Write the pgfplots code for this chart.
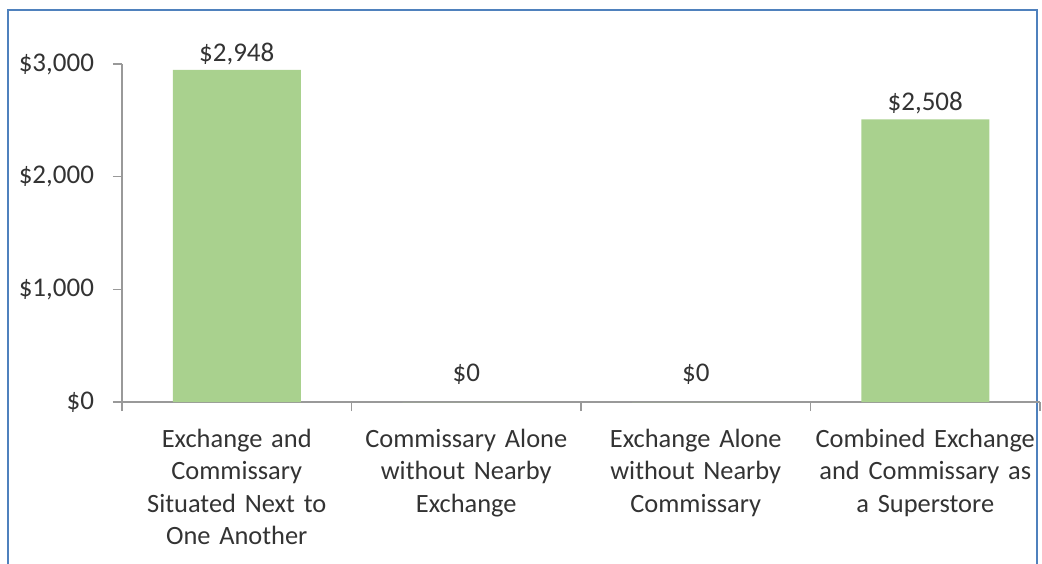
\documentclass[border=0pt]{standalone}
\usepackage{pgfplots}
\pgfplotsset{compat=1.18}
\usepackage{fontspec}
\setmainfont{Carlito}
\definecolor{bargreen}{HTML}{A9D18E}
\definecolor{frameblue}{HTML}{4F81BD}
\definecolor{txt}{HTML}{333333}
\begin{document}
\begin{tikzpicture}
\path[use as bounding box] (0,0) rectangle (521pt,281.5pt);
\draw[frameblue, line width=1.3pt] (4pt,-10pt) -- (4pt,276.5pt) -- (518.5pt,276.5pt) -- (518.5pt,-10pt);
\begin{axis}[
  at={(61pt,80.5pt)}, anchor=south west,
  scale only axis, width=459pt, height=169pt,
  clip=false,
  xmin=-0.5, xmax=3.5, ymin=0, ymax=3000,
  axis x line*=bottom, axis y line*=left,
  axis line style={-, draw=gray!80, line width=0.6pt},
  xtick={0,1,2,3},
  xticklabels={{Exchange and\\Commissary\\Situated Next to\\One Another},
               {Commissary Alone\\without Nearby\\Exchange},
               {Exchange Alone\\without Nearby\\Commissary},
               {Combined Exchange\\and Commissary as\\a Superstore}},
  major x tick style={draw=none},
  minor xtick={-0.5,0.5,1.5,2.5,3.5},
  minor tick length=4.5pt,
  minor x tick style={draw=gray!80, line width=0.6pt},
  ytick={0,1000,2000,3000},
  yticklabels={{\$0},{\$1,000},{\$2,000},{\$3,000}},
  major tick length=4.5pt,
  tick align=outside,
  ytick style={draw=gray!80, line width=0.6pt},
  xticklabel style={text width=112pt, align=center, font=\fontsize{13.2}{16.25}\selectfont, text=txt, yshift=-5.5pt},
  yticklabel style={font=\fontsize{13.5}{16}\selectfont, text=txt, xshift=-6pt},
  ybar, bar width=64pt, bar shift=0pt,
  nodes near coords,
  point meta=explicit symbolic,
  every node near coord/.append style={font=\fontsize{13.5}{16}\selectfont, text=txt, yshift=-1pt},
]
\addplot[fill=bargreen, draw=none] table[meta=lab] {
x y lab
0 2948 \$2,948
3 2508 \$2,508
};
\addplot[fill=bargreen, draw=none,
  every node near coord/.append style={yshift=6pt}] table[meta=lab] {
x y lab
1 0 \$0
2 0 \$0
};
\end{axis}
\end{tikzpicture}
\end{document}
